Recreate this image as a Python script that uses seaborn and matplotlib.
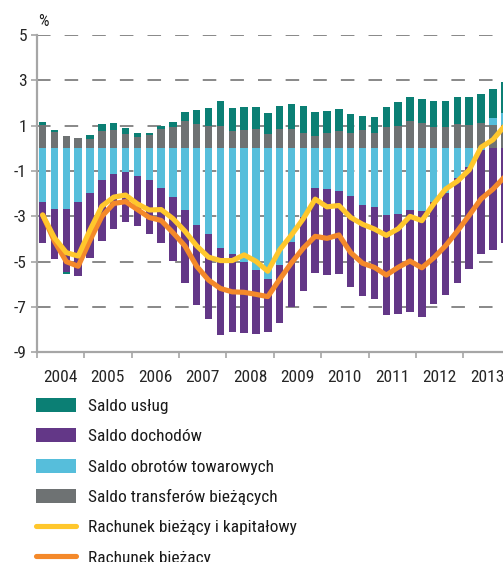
import numpy as np
import matplotlib
matplotlib.use("Agg")
import matplotlib.pyplot as plt
from matplotlib import font_manager as fm
from matplotlib.patches import Patch
from matplotlib.lines import Line2D
from matplotlib.textpath import TextToPath
import seaborn as sns

# Quarterly balance-of-payments components, % of GDP, 2004Q1-2013Q4
years = ["2004", "2005", "2006", "2007", "2008", "2009", "2010", "2011", "2012", "2013"]

saldo_uslug = [0.15, 0.07, -0.07, 0.03, 0.14, 0.30, 0.33, 0.27, 0.19, 0.11,
               0.15, 0.19, 0.39, 0.62, 0.79, 1.10, 1.00, 1.00, 0.97, 0.93,
               1.03, 1.10, 1.18, 1.08, 0.97, 0.94, 0.81, 0.63, 0.71, 0.88,
               1.06, 1.04, 1.09, 1.13, 1.13, 1.19, 1.25, 1.28, 1.28, 1.35]

saldo_dochodow = [-1.84, -2.21, -2.79, -3.27, -2.86, -2.67, -2.44, -2.23, -2.21, -2.39,
                  -2.43, -2.84, -3.21, -3.53, -3.75, -3.83, -3.43, -3.13, -2.83, -2.37,
                  -2.54, -2.86, -3.24, -3.74, -3.81, -3.68, -4.00, -4.01, -4.05, -4.41,
                  -4.41, -4.52, -4.71, -4.51, -4.48, -4.64, -4.53, -4.59, -4.49, -4.16]

saldo_towarowe = [-2.35, -2.69, -2.68, -2.35, -1.96, -1.40, -1.13, -1.03, -1.22, -1.40,
                  -1.76, -2.13, -2.72, -3.38, -3.79, -4.41, -4.66, -5.00, -5.37, -5.75,
                  -5.16, -4.14, -3.04, -1.76, -1.79, -1.87, -2.10, -2.50, -2.60, -2.94,
                  -2.90, -2.72, -2.75, -2.37, -1.99, -1.32, -0.81, -0.07, 0.29, 0.54]

saldo_transferow = [1.01, 0.72, 0.53, 0.44, 0.43, 0.76, 0.79, 0.63, 0.49, 0.57,
                    0.84, 0.96, 1.21, 1.07, 0.97, 0.99, 0.76, 0.81, 0.84, 0.65,
                    0.84, 0.84, 0.69, 0.54, 0.69, 0.78, 0.69, 0.81, 0.66, 0.93,
                    1.00, 1.21, 1.10, 0.96, 0.96, 1.06, 1.03, 1.10, 1.03, 1.03]

rachunek_biez_kap = [-2.94, -3.95, -4.60, -4.75, -3.60, -2.55, -2.15, -2.06, -2.45, -2.72,
                     -2.70, -3.10, -3.65, -4.30, -4.80, -4.95, -4.95, -4.70, -4.98, -5.42,
                     -4.48, -3.82, -3.10, -2.24, -2.58, -2.52, -3.05, -3.35, -3.56, -3.84,
                     -3.55, -3.00, -3.19, -2.45, -1.80, -1.45, -0.95, 0.05, 0.38, 1.00]

rachunek_biez = [-2.94, -4.10, -5.00, -5.20, -4.05, -3.00, -2.43, -2.35, -2.70, -3.05,
                 -3.18, -3.72, -4.30, -5.20, -5.81, -6.18, -6.33, -6.35, -6.44, -6.54,
                 -5.78, -5.05, -4.40, -3.88, -3.97, -3.82, -4.60, -5.07, -5.25, -5.59,
                 -5.25, -4.97, -5.27, -4.83, -4.30, -3.65, -2.95, -2.23, -1.80, -1.25]

labels_bars = ["Saldo usług", "Saldo dochodów", "Saldo obrotów towarowych",
               "Saldo transferów bieżących"]
labels_lines = ["Rachunek bieżący i kapitałowy", "Rachunek bieżący"]

c_uslugi = "#0b7f74"
c_dochody = "#633787"
c_towary = "#56bedb"
c_transfery = "#6e7273"
c_yellow = "#ffc72c"
c_orange = "#f4892a"
c_axis = "#a6a6a6"
c_grid = "#7f7f7f"

sns.set_style("white")
plt.rcParams["font.family"] = ["Liberation Sans", "DejaVu Sans"]
plt.rcParams["text.color"] = "#1a1a1a"


def pick_narrow_font():
    """Prefer a narrow/condensed sans face when one is installed."""
    wanted = ["Liberation Sans Narrow", "Arial Narrow", "Roboto Condensed",
              "Open Sans Condensed", "DejaVu Sans Condensed"]
    found = {}
    for f in fm.fontManager.ttflist:
        if f.style != "normal" or f.weight not in (400, "normal", "regular"):
            continue
        key = f.name
        if f.stretch in ("condensed", "semi-condensed", "extra-condensed") or \
                (isinstance(f.stretch, int) and f.stretch < 500):
            key = f.name + " Condensed" if "Condensed" not in f.name else f.name
        found.setdefault(key, f.fname)
    for w in wanted:
        if w in found:
            return fm.FontProperties(fname=found[w])
    return fm.FontProperties(family=["Liberation Sans", "DejaVu Sans"])


base_prop = pick_narrow_font()

# size the face so the longest bar label spans about 186 px at 100 dpi
probe = base_prop.copy()
probe.set_size(13.4)
w_pt, _, _ = TextToPath().get_text_width_height_descent(
    "Saldo obrotów towarowych", probe, ismath=False)
w_px = w_pt * 100 / 72
fsize = min(13.4, 13.4 * 186 / w_px)
text_prop = base_prop.copy()
text_prop.set_size(fsize)

fig = plt.figure(figsize=(5.03, 5.62), dpi=100)
ax = fig.add_axes([0.0730, 0.3730, 0.9270, 0.5647])

n = len(saldo_uslug)
x = np.arange(n)

# stacking: positives build upward from zero, negatives downward
series_pos = [(saldo_transferow, c_transfery), (saldo_towarowe, c_towary),
              (saldo_uslug, c_uslugi), (saldo_dochodow, c_dochody)]
series_neg = [(saldo_towarowe, c_towary), (saldo_dochodow, c_dochody),
              (saldo_uslug, c_uslugi), (saldo_transferow, c_transfery)]

width = 0.63
pos_base = np.zeros(n)
for vals, col in series_pos:
    v = np.clip(np.asarray(vals, float), 0, None)
    ax.bar(x, v, width, bottom=pos_base, color=col, edgecolor="none", zorder=2)
    pos_base += v
neg_base = np.zeros(n)
for vals, col in series_neg:
    v = np.clip(np.asarray(vals, float), None, 0)
    ax.bar(x, v, width, bottom=neg_base, color=col, edgecolor="none", zorder=2)
    neg_base += v

sns.lineplot(x=x, y=rachunek_biez, ax=ax, color=c_orange, linewidth=3.7,
             legend=False, zorder=4, solid_capstyle="round", solid_joinstyle="round")
sns.lineplot(x=x, y=rachunek_biez_kap, ax=ax, color=c_yellow, linewidth=3.7,
             legend=False, zorder=5, solid_capstyle="round", solid_joinstyle="round")

ax.set_xlim(-0.5, 38.85)
ax.set_ylim(-9, 5)

# dashed reference lines behind the bars
for yv in [5, 3, 1, -1, -3, -5, -7]:
    ax.axhline(yv, color=c_grid, linewidth=1.3, dashes=(7.5, 7.8), zorder=1)

ax.set_yticks([5, 3, 1, -1, -3, -5, -7, -9])
ax.set_yticklabels(["5", "3", "1", "-1", "-3", "-5", "-7", "-9"],
                   fontproperties=text_prop)
ax.set_xticks(np.arange(-0.5, 39, 4))
ax.set_xticklabels([])
ax.set_xticks(np.arange(1.5, 40, 4), minor=True)
ax.set_xticklabels(years, minor=True, fontproperties=text_prop)
ax.tick_params(axis="x", which="major", direction="out", length=4, width=1.2,
               color=c_axis, bottom=True)
ax.tick_params(axis="x", which="minor", length=0, pad=13)
ax.tick_params(axis="y", direction="out", length=4, width=1.2, color=c_axis,
               left=True, pad=3)

for side in ["top", "right"]:
    ax.spines[side].set_visible(False)
for side in ["left", "bottom"]:
    ax.spines[side].set_color(c_axis)
    ax.spines[side].set_linewidth(1.6)

pct_prop = text_prop.copy()
pct_prop.set_size(fsize * 0.95)
fig.text(43 / 503, 1 - 21 / 562, "%", ha="center", va="center",
         fontproperties=pct_prop)

handles = [Patch(facecolor=c_uslugi, edgecolor="none"),
           Patch(facecolor=c_dochody, edgecolor="none"),
           Patch(facecolor=c_towary, edgecolor="none"),
           Patch(facecolor=c_transfery, edgecolor="none"),
           Line2D([0], [0], color=c_yellow, linewidth=3.7, solid_capstyle="round"),
           Line2D([0], [0], color=c_orange, linewidth=3.7, solid_capstyle="round")]
fs_px = fsize * 100 / 72
fig.legend(handles, labels_bars + labels_lines, loc="upper left",
           bbox_to_anchor=(36 / 503, 1 - 398 / 562), frameon=False,
           prop=text_prop, handlelength=40 / fs_px, handleheight=15 / fs_px,
           handletextpad=12 / fs_px, labelspacing=0.66 + 2.8 / fs_px,
           borderpad=0, borderaxespad=0)

fig.savefig("out.png", dpi=100)
